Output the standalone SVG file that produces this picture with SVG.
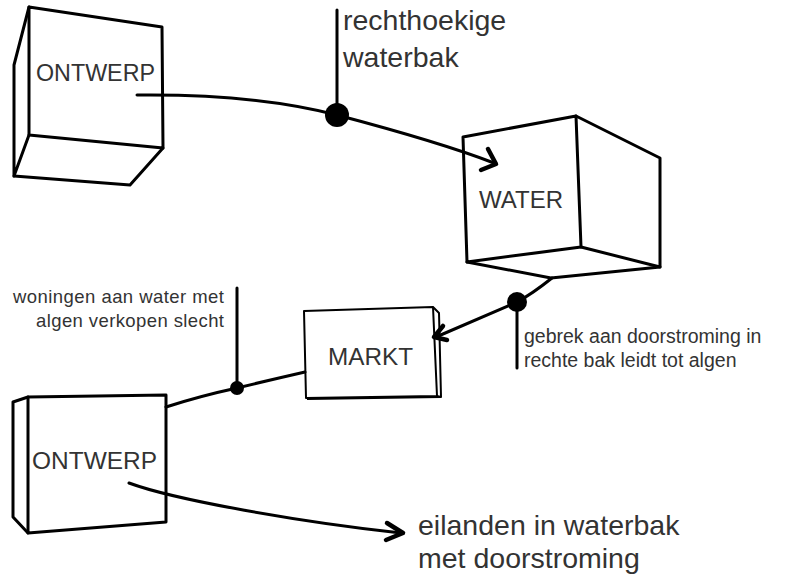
<svg xmlns="http://www.w3.org/2000/svg" width="794" height="580" viewBox="0 0 794 580">
<style>
.edge{fill:none;stroke:#000;stroke-width:3;stroke-linejoin:round;stroke-linecap:round}
.thin{fill:none;stroke:#000;stroke-width:2;stroke-linejoin:round}
.lbl{font-family:"Liberation Sans",Arial,sans-serif;fill:#333}
.con{fill:none;stroke:#000;stroke-width:3;stroke-linecap:round}
.head{fill:none;stroke:#000;stroke-width:4.5;stroke-linecap:round;stroke-linejoin:round}
.dot{fill:#000}
</style>
<rect width="794" height="580" fill="#fff"/>
<g id="ontwerp1">
  <path class="edge" d="M29,7 L162,27 L163,148 L29,135 Z"/>
  <path class="edge" d="M29,7 L14,65 L14,176 L29,135"/>
  <path class="edge" d="M14,176 L130,185 L163,148"/>
  <text class="lbl" x="36" y="81" font-size="24" textLength="119" lengthAdjust="spacingAndGlyphs">ONTWERP</text>
</g>
<g id="water">
  <path class="edge" d="M463,137 L576,116 L581,247 L467,262 Z"/>
  <path class="edge" d="M576,116 L660,158 L660,267 L581,247"/>
  <path class="edge" d="M467,262 L551,278 L660,267"/>
  <text class="lbl" x="479" y="208" font-size="24" textLength="84" lengthAdjust="spacingAndGlyphs">WATER</text>
</g>
<g id="markt">
  <path class="thin" d="M304,311 L433,307 L437,396 L306,398 Z"/>
  <path class="thin" d="M433,307 L439,313 L441,397 L437,396"/>
  <path class="thin" d="M307,399 L441,397"/>
  <text class="lbl" x="328" y="365" font-size="24" textLength="85" lengthAdjust="spacingAndGlyphs">MARKT</text>
</g>
<g id="ontwerp2">
  <path class="edge" d="M28,397 L166,395 L166,522 L28,533 Z"/>
  <path class="edge" d="M28,397 L13,402 L13,517 L28,533"/>
  <text class="lbl" x="32" y="469" font-size="24.5" textLength="125" lengthAdjust="spacingAndGlyphs">ONTWERP</text>
</g>
<g id="connectors">
  <path class="con" d="M137,95 C230,94 295,104 337,115 C390,129 445,144 494,163"/>
  <path class="head" d="M488,149 L496,164 L481,170"/>
  <path class="con" d="M552,278 Q532,294 517,302 Q480,318 436,337"/>
  <path class="head" d="M443,326 L434,337 L447,340"/>
  <path class="con" d="M166,407 Q200,396 237,388 Q270,380 305,372"/>
  <path class="con" d="M129,483 C175,500 300,522 401,533"/>
  <path class="head" d="M387,523 L403,533 L386,540"/>
</g>
<g id="annotations">
  <line class="con" x1="337" y1="10" x2="337" y2="114"/>
  <circle class="dot" cx="337" cy="115" r="12"/>
  <text class="lbl" x="343" y="30" font-size="28.5">rechthoekige</text>
  <text class="lbl" x="343" y="67" font-size="28.5">waterbak</text>
  <line class="con" x1="517" y1="302" x2="517" y2="368"/>
  <circle class="dot" cx="517" cy="302" r="10"/>
  <text class="lbl" x="524" y="343" font-size="19.5">gebrek aan doorstroming in</text>
  <text class="lbl" x="524" y="367" font-size="19.5">rechte bak leidt tot algen</text>
  <line class="con" x1="237" y1="288" x2="237" y2="388"/>
  <circle class="dot" cx="237" cy="388" r="7"/>
  <text class="lbl" x="13" y="303" font-size="18.5" textLength="211" lengthAdjust="spacing">woningen aan water met</text>
  <text class="lbl" x="36" y="327" font-size="18.5" textLength="188" lengthAdjust="spacing">algen verkopen slecht</text>
  <text class="lbl" x="418" y="535" font-size="28.5">eilanden in waterbak</text>
  <text class="lbl" x="418" y="568" font-size="28.5">met doorstroming</text>
</g>
</svg>
